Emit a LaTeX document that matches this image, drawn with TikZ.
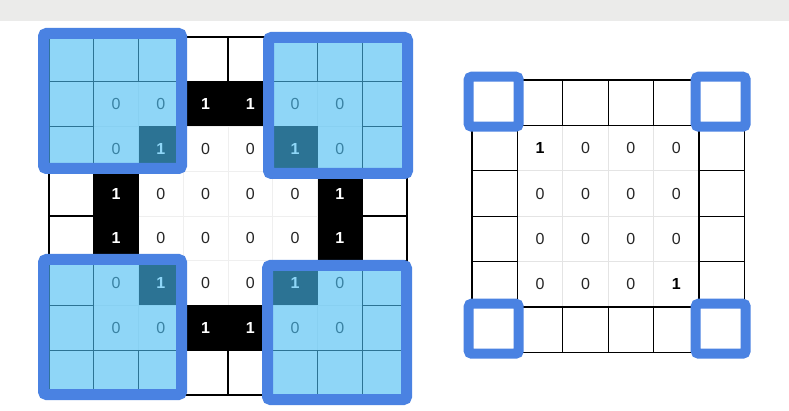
\documentclass[tikz,border=0pt]{standalone}
\usepackage{fontspec}
\setmainfont{Liberation Sans}
\definecolor{topbar}{HTML}{EBEBEA}
\definecolor{ovblue}{HTML}{4A82E2}
\definecolor{ovfill}{HTML}{48BDF3}
\definecolor{faintL}{HTML}{EFEFEF}
\definecolor{faintR}{HTML}{E4E4E4}
\tikzset{
  ringcell/.style={draw=black,line width=1.2pt},
  innerlineL/.style={draw=faintL,line width=0.8pt},
  innerlineR/.style={draw=faintR,line width=0.8pt},
  digit/.style={inner sep=0pt,font=\fontsize{16}{18}\selectfont},
  zero/.style={digit,text=black!85},
  onewhite/.style={digit,font=\fontsize{16}{18}\selectfont\bfseries,text=white},
  oneblack/.style={digit,font=\fontsize{16}{18}\selectfont\bfseries,text=black},
  ovframe/.style={draw=ovblue,line width=11pt,rounded corners=3pt},
  ovshade/.style={fill=ovfill,fill opacity=0.61},
  cornerbox/.style={draw=ovblue,line width=10pt,rounded corners=3pt}
}
\begin{document}
\begin{tikzpicture}[x=1pt,y=-1pt]
\useasboundingbox (0,0) rectangle (789,411);
\fill[white] (0,0) rectangle (789,411);
\fill[topbar] (0,0) rectangle (789,21);
% ---------- left grid (8x8) ----------
\def\lx{49}\def\ly{37}\def\lc{44.75}
% interior faint lines
\foreach \i in {2,...,6}{
  \draw[innerlineL] ({\lx+\lc*\i},{\ly+\lc}) -- ({\lx+\lc*\i},{\ly+7*\lc});
  \draw[innerlineL] ({\lx+\lc},{\ly+\lc*\i}) -- ({\lx+7*\lc},{\ly+\lc*\i});
}
% interior values
\foreach \r/\row in {1/{0,0,1,1,0,0},2/{0,1,0,0,1,0},3/{1,0,0,0,0,1},4/{1,0,0,0,0,1},5/{0,1,0,0,1,0},6/{0,0,1,1,0,0}}{
  \foreach \v [count=\c] in \row {
    \ifnum\v=1
      \fill[black] ({\lx+\lc*\c},{\ly+\lc*\r}) rectangle ({\lx+\lc*(\c+1)},{\ly+\lc*(\r+1)});
      \node[onewhite] (L-\r-\c) at ({\lx+\lc*(\c+0.5)},{\ly+\lc*(\r+0.5)}) {1};
    \else
      \node[zero] (L-\r-\c) at ({\lx+\lc*(\c+0.5)},{\ly+\lc*(\r+0.5)}) {0};
    \fi
  }
}
% ring cells
\foreach \c in {0,...,7}{
  \draw[ringcell] ({\lx+\lc*\c},{\ly}) rectangle ({\lx+\lc*(\c+1)},{\ly+\lc});
  \draw[ringcell] ({\lx+\lc*\c},{\ly+7*\lc}) rectangle ({\lx+\lc*(\c+1)},{\ly+8*\lc});
}
\foreach \r in {1,...,6}{
  \draw[ringcell] ({\lx},{\ly+\lc*\r}) rectangle ({\lx+\lc},{\ly+\lc*(\r+1)});
  \draw[ringcell] ({\lx+7*\lc},{\ly+\lc*\r}) rectangle ({\lx+8*\lc},{\ly+\lc*(\r+1)});
}
% overlays (semi-transparent windows)
\foreach \xa/\ya/\xb/\yb in {49/39/176/163, 274/43/402/168, 49/265/176/389, 273/271/401/394}{
  \fill[ovshade] (\xa,\ya) rectangle (\xb,\yb);
  \draw[ovframe] ({\xa-5.5},{\ya-5.5}) rectangle ({\xb+5.5},{\yb+5.5});
}
% ---------- right grid (6x6) ----------
\def\rx{472}\def\ry{80}\def\rc{45.4}
\foreach \i in {2,...,4}{
  \draw[innerlineR] ({\rx+\rc*\i},{\ry+\rc}) -- ({\rx+\rc*\i},{\ry+5*\rc});
  \draw[innerlineR] ({\rx+\rc},{\ry+\rc*\i}) -- ({\rx+5*\rc},{\ry+\rc*\i});
}
\foreach \c in {0,...,5}{
  \draw[ringcell] ({\rx+\rc*\c},{\ry}) rectangle ({\rx+\rc*(\c+1)},{\ry+\rc});
  \draw[ringcell] ({\rx+\rc*\c},{\ry+5*\rc}) rectangle ({\rx+\rc*(\c+1)},{\ry+6*\rc});
}
\foreach \r in {1,...,4}{
  \draw[ringcell] ({\rx},{\ry+\rc*\r}) rectangle ({\rx+\rc},{\ry+\rc*(\r+1)});
  \draw[ringcell] ({\rx+5*\rc},{\ry+\rc*\r}) rectangle ({\rx+6*\rc},{\ry+\rc*(\r+1)});
}
\foreach \r/\row in {1/{1,0,0,0},2/{0,0,0,0},3/{0,0,0,0},4/{0,0,0,1}}{
  \foreach \v [count=\c] in \row {
    \ifnum\v=1
      \node[oneblack] (R-\r-\c) at ({\rx+\rc*(\c+0.5)},{\ry+\rc*(\r+0.5)}) {1};
    \else
      \node[zero] (R-\r-\c) at ({\rx+\rc*(\c+0.5)},{\ry+\rc*(\r+0.5)}) {0};
    \fi
  }
}
% corner highlight squares
\foreach \c/\r in {0/0,5/0,0/5,5/5}{
  \draw[cornerbox] ({\rx+\rc*(\c+0.5)-26},{\ry+\rc*(\r+0.5)-26}) rectangle ({\rx+\rc*(\c+0.5)+24},{\ry+\rc*(\r+0.5)+24});
}
\end{tikzpicture}
\end{document}
